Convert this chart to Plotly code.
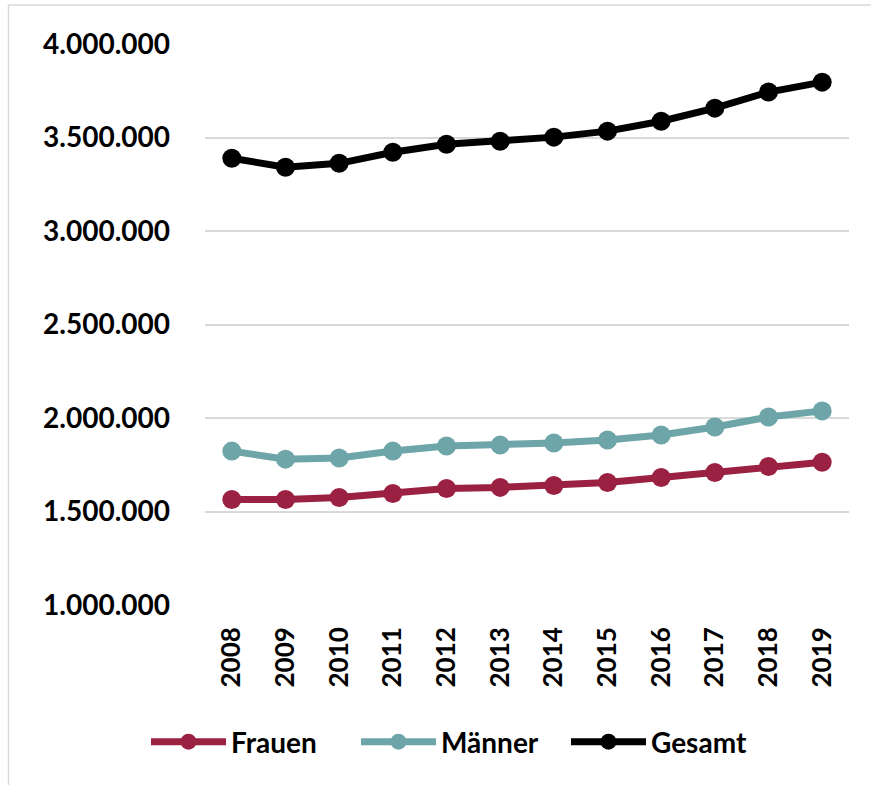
import plotly.graph_objects as go

years = ["2008", "2009", "2010", "2011", "2012", "2013", "2014", "2015", "2016", "2017", "2018", "2019"]
frauen = [1564000, 1564000, 1575000, 1596000, 1623000, 1629000, 1639000, 1655000, 1682000, 1709000, 1741000, 1763000]
maenner = [1823000, 1780000, 1786000, 1823000, 1850000, 1855000, 1866000, 1882000, 1909000, 1952000, 2005000, 2038000]
gesamt = [3389000, 3341000, 3362000, 3421000, 3464000, 3480000, 3502000, 3534000, 3587000, 3657000, 3743000, 3796000]
y_ticks = [1000000, 1500000, 2000000, 2500000, 3000000, 3500000, 4000000]

FONT = "Lato"
series = [
    ("Frauen", frauen, "#9B2142"),
    ("Männer", maenner, "#6DA5A8"),
    ("Gesamt", gesamt, "#000000"),
]

fig = go.Figure()
for name, vals, col in series:
    fig.add_trace(go.Scatter(
        x=years, y=vals, name=name, mode="lines+markers",
        line=dict(color=col, width=7),
        marker=dict(color=col, size=19),
    ))

W, H = 871, 785
L, T = 205, 44
R = W - 849
B = H - 605
pw, ph = W - L - R, H - T - B

def px(X):
    return (X - L) / pw

def py(Y):
    return (H - B - Y) / ph

fig.update_layout(
    width=W, height=H,
    margin=dict(l=L, r=R, t=T, b=B),
    paper_bgcolor="white", plot_bgcolor="white",
    separators=",.",
    font=dict(family=FONT, size=27, color="black", weight="bold"),
    showlegend=True,
    legend=dict(
        orientation="h", x=px(146), xanchor="left", y=py(742), yanchor="middle",
        font=dict(family=FONT, size=28, color="black", weight="bold"),
        itemwidth=75, traceorder="normal", tracegroupgap=0,
        entrywidth=120, entrywidthmode="pixels",
        bgcolor="rgba(0,0,0,0)",
    ),
    xaxis=dict(
        type="category", range=[-0.5, 11.5], tickangle=-90,
        showgrid=False, showline=False, zeroline=False, ticks="",
        ticklabelstandoff=16,
        tickfont=dict(family=FONT, size=26, color="black", weight="bold"),
    ),
    yaxis=dict(
        range=[1000000, 4000000], tickvals=y_ticks, tickformat=",d",
        showgrid=True, gridcolor="#d9d9d9", gridwidth=1.5,
        showline=False, zeroline=False, ticks="",
        ticklabelstandoff=34,
        tickfont=dict(family=FONT, size=28, color="black", weight="bold"),
    ),
    shapes=[
        dict(type="line", xref="paper", yref="paper",
             x0=px(8.5), x1=px(880), y0=py(5), y1=py(5),
             line=dict(color="#d9d9d9", width=1.5)),
        dict(type="line", xref="paper", yref="paper",
             x0=px(8.5), x1=px(8.5), y0=py(5), y1=py(800),
             line=dict(color="#d9d9d9", width=1.5)),
    ],
)

fig.write_html(
    "out.html",
    config={"displayModeBar": False},
    post_script="document.body.style.margin='0';document.body.style.overflow='hidden';",
)
